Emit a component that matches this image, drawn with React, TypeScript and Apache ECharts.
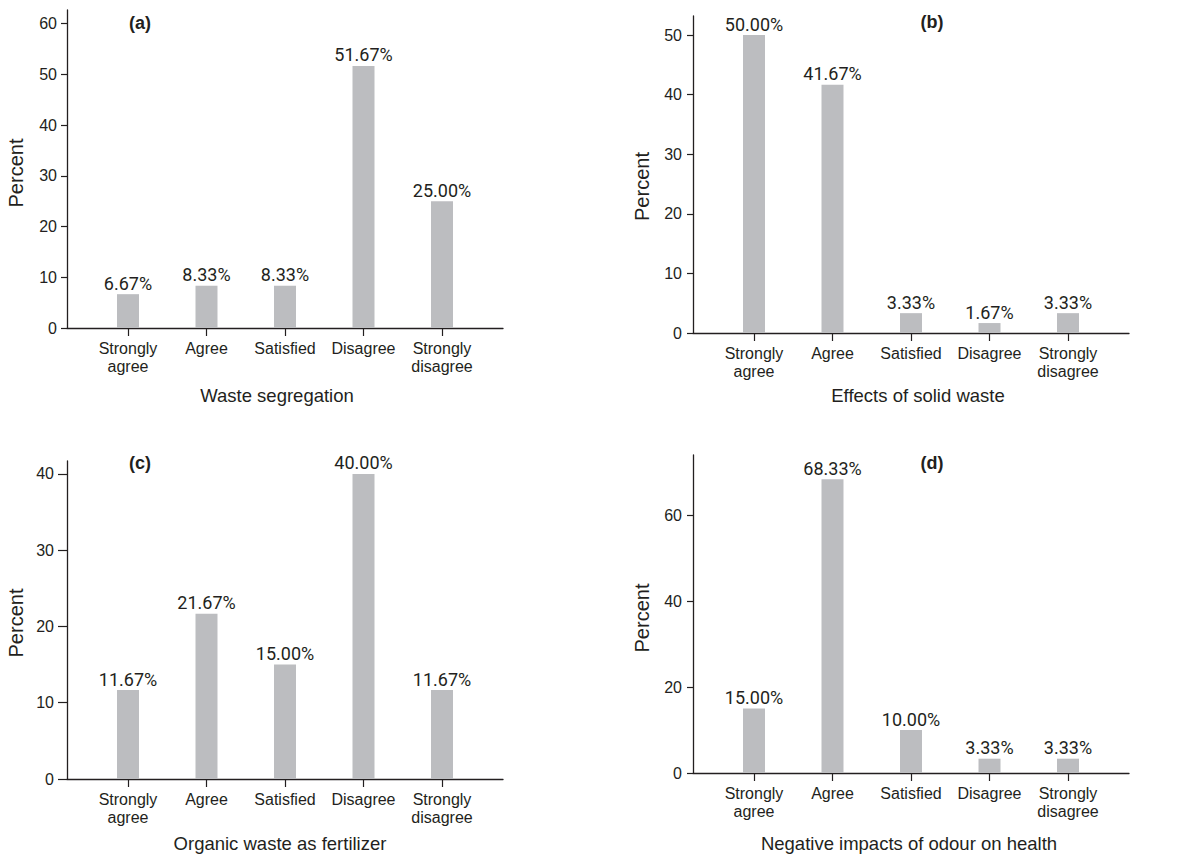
import React, { useEffect, useRef } from "react";
import * as echarts from "echarts";

// ---- data ----
const categories = ["Strongly\nagree", "Agree", "Satisfied", "Disagree", "Strongly\ndisagree"];
const categoryIndex = [0, 1, 2, 3, 4];
const wasteSegregation = [6.67, 8.33, 8.33, 51.67, 25.0];
const effectsOfSolidWaste = [50.0, 41.67, 3.33, 1.67, 3.33];
const organicWasteAsFertilizer = [11.67, 21.67, 15.0, 40.0, 11.67];
const odourHealthImpacts = [15.0, 68.33, 10.0, 3.33, 3.33];
const yTicksA = [0, 10, 20, 30, 40, 50, 60];
const yTicksB = [0, 10, 20, 30, 40, 50];
const yTicksC = [0, 10, 20, 30, 40];
const yTicksD = [0, 20, 40, 60];
const panelTags = ["(a)", "(b)", "(c)", "(d)"];
const panelNames = [
  "Waste segregation",
  "Effects of solid waste",
  "Organic waste as fertilizer",
  "Negative impacts of odour on health",
];

// ---- layout / style ----
const INK = "#231f20";
const BAR = "#bcbdc0";
const SANS = "'Liberation Sans', Arial, Helvetica, sans-serif";
const NARROW = "Roboto, 'Liberation Sans', Arial, sans-serif";

const panels = [
  { values: wasteSegregation, ticks: yTicksA, yMax: 62.7, left: 67, top: 10, height: 318, nameGap: 58, nameShift: -8, pctShift: 4, tickLen: 6, labelMargin: 10, tag: [140, 23] },
  { values: effectsOfSolidWaste, ticks: yTicksB, yMax: 53.2, left: 693, top: 16, height: 317, nameGap: 53, nameShift: 7, pctShift: 12, tickLen: 6, labelMargin: 11, tag: [932, 22] },
  { values: organicWasteAsFertilizer, ticks: yTicksC, yMax: 41.7, left: 67, top: 461, height: 318, nameGap: 55, nameShift: -5, pctShift: 3, tickLen: 9, labelMargin: 13, tag: [140, 463] },
  { values: odourHealthImpacts, ticks: yTicksD, yMax: 74, left: 693, top: 455, height: 318, nameGap: 61, nameShift: -2, pctShift: 4, tickLen: 6, labelMargin: 11, tag: [932, 463] },
];

function buildOption() {
  const grid: any[] = [];
  const xAxis: any[] = [];
  const yAxis: any[] = [];
  const series: any[] = [];
  const graphic: any[] = [];
  panels.forEach((p, i) => {
    grid.push({ left: p.left, top: p.top, width: 436, height: p.height, containLabel: false });
    xAxis.push({
      type: "value",
      gridIndex: i,
      min: -0.777,
      max: 4.777,
      name: panelNames[i],
      nameLocation: "middle",
      nameGap: p.nameGap,
      nameTextStyle: {
        fontFamily: SANS,
        fontSize: 18.5,
        color: INK,
        padding: p.nameShift < 0 ? [0, -2 * p.nameShift, 0, 0] : [0, 0, 0, 2 * p.nameShift],
      },
      axisLine: { show: true, onZero: false, lineStyle: { color: INK, width: 1.3 } },
      axisTick: { show: true, length: 8, customValues: categoryIndex, lineStyle: { color: INK, width: 1.2 } },
      axisLabel: {
        customValues: categoryIndex,
        formatter: (v: number) => categories[Math.round(v)],
        fontFamily: SANS,
        fontSize: 16,
        lineHeight: 18,
        color: INK,
        margin: 11,
      },
      splitLine: { show: false },
    });
    yAxis.push({
      type: "value",
      gridIndex: i,
      min: 0,
      max: p.yMax,
      name: "Percent",
      nameLocation: "middle",
      nameGap: 41,
      nameRotate: 90,
      nameTextStyle: { fontFamily: SANS, fontSize: 20, color: INK, padding: [0, 2 * p.pctShift, 0, 0] },
      axisLine: { show: true, onZero: false, lineStyle: { color: INK, width: 1.3 } },
      axisTick: { show: true, length: p.tickLen, customValues: p.ticks, lineStyle: { color: INK, width: 1.2 } },
      axisLabel: {
        customValues: p.ticks,
        fontFamily: SANS,
        fontSize: 16,
        color: INK,
        margin: p.labelMargin,
      },
      splitLine: { show: false },
    });
    series.push({
      type: "bar",
      xAxisIndex: i,
      yAxisIndex: i,
      barWidth: 22,
      itemStyle: { color: BAR },
      data: p.values.map((v, k) => [categoryIndex[k], v]),
      label: {
        show: true,
        position: "top",
        distance: 2,
        formatter: (prm: any) => prm.value[1].toFixed(2) + "%",
        fontFamily: NARROW,
        fontSize: 18,
        color: INK,
      },
    });
    graphic.push({
      type: "text",
      x: p.tag[0],
      y: p.tag[1],
      style: {
        text: panelTags[i],
        font: "bold 18px " + SANS,
        fill: INK,
        textAlign: "center",
        textVerticalAlign: "middle",
      },
    });
  });
  return { animation: false, backgroundColor: "#ffffff", grid, xAxis, yAxis, series, graphic };
}

export default function App() {
  const ref = useRef<HTMLDivElement>(null);
  useEffect(() => {
    if (!ref.current) return;
    const chart = echarts.init(ref.current, null, { renderer: "svg" });
    chart.setOption(buildOption());
    return () => chart.dispose();
  }, []);
  return (
    <div
      ref={ref}
      style={{ position: "fixed", left: 0, top: 0, width: 1200, height: 858, background: "#fff" }}
    />
  );
}
